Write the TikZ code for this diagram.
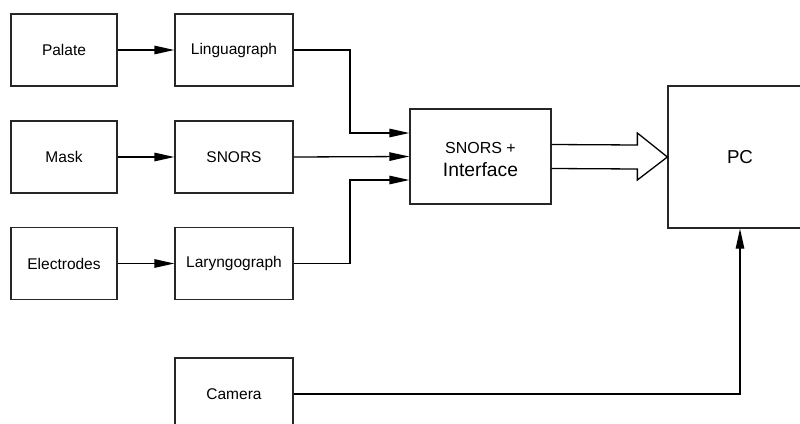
\documentclass[tikz,border=0pt]{standalone}
\usepackage{fontspec}
\setmainfont{Liberation Sans}
\usetikzlibrary{arrows.meta,calc}
\begin{document}
\begin{tikzpicture}[x=1pt,y=-1pt,
  box/.style={draw=black!85,line width=1.3pt,inner sep=0pt,font=\fontsize{15.5}{18}\selectfont},
  lbox/.style={box,minimum width=106pt,minimum height=72pt},
  rbox/.style={box,minimum width=118pt,minimum height=72pt},
  conn/.style={line width=1.3pt,-{Triangle[length=20pt,width=8.5pt]}},
  line/.style={line width=1.3pt}]
\useasboundingbox (0,0) rectangle (800,423);
\clip (0,0) rectangle (800,423);
\node[lbox] (palate) at (64,50) {Palate};
\node[rbox] (ling) at (234,50) {Linguagraph};
\node[lbox] (mask) at (64,157) {Mask};
\node[rbox] (snors) at (234,157) {SNORS};
\node[lbox] (elec) at (64,263.5) {Electrodes};
\node[rbox] (laryn) at (234,263.5) {Laryngograph};
\node[rbox] (camera) at (234,394) {Camera};
\node[box,minimum width=141pt,minimum height=95pt,align=center] (iface) at (480.5,156.5)
  {\fontsize{16}{19}\selectfont\rule{0pt}{18pt}SNORS +\\[5pt]\fontsize{19.3}{22}\selectfont Interface};
\node[box,minimum width=144pt,minimum height=142pt,font=\fontsize{18.7}{22}\selectfont] (pc) at (740,157) {PC};
\coordinate (j1) at (350,133);
\coordinate (j3) at (350,180);
\draw[conn] (palate) -- (ling);
\draw[conn] (mask) -- (snors);
\draw[conn] (elec) -- (laryn);
\draw[conn] (ling.east) -| (j1) -- (j1 -| iface.west);
\draw[conn] (snors.east) -- (iface.west);
\draw[conn] (laryn.east) -| (j3) -- (j3 -| iface.west);
\draw[conn] (camera.east) -| (pc.south);
\draw[line,line join=miter] ($(iface.east)+(0,-12)$) -- ($(pc.west)+(-30,-12)$) -- ($(pc.west)+(-30,-24)$)
  -- (pc.west) -- ($(pc.west)+(-30,23)$) -- ($(pc.west)+(-30,12)$) -- ($(iface.east)+(0,12)$);
\end{tikzpicture}
\end{document}
